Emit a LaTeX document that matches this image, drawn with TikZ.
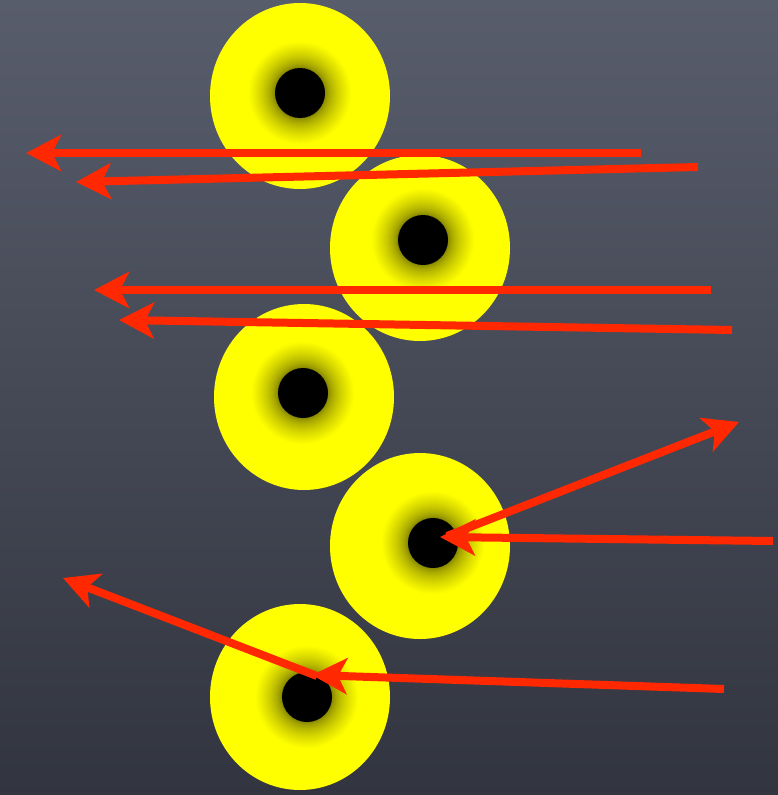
\documentclass[tikz,border=0pt]{standalone}
\usetikzlibrary{arrows.meta}
\definecolor{bgtop}{RGB}{88,93,108}
\definecolor{bgbot}{RGB}{50,53,63}
\definecolor{arrred}{RGB}{255,40,0}
\definecolor{disc}{RGB}{255,255,0}
\definecolor{dkolive}{RGB}{120,120,0}
\tikzset{
  discbody/.style={fill=disc},
  holedot/.style={fill=black},
  ray/.style={draw=arrred, line width=8pt, -{Stealth[length=35pt,width=36pt,inset=9pt]}}
}
\begin{document}
\begin{tikzpicture}[x=1pt,y=-1pt]
\shade[top color=bgtop, bottom color=bgbot] (0,0) rectangle (778,795);
\useasboundingbox (0,0) rectangle (778,795);
% discs: center, dot
\foreach \cx/\cy/\dx/\dy/\n in {300/96/300/93/a, 420/248/423/240/b, 304/397/303/393/c, 420/546/433/543/d, 300/697/307/697/e}{
  \fill[discbody] (\cx,\cy) ellipse [x radius=90, y radius=93];
  \foreach \r in {52,51,...,25}{
    \pgfmathsetmacro{\p}{100*((\r-25)/27)^0.6}
    \fill[color=disc!\p!dkolive] (\dx,\dy) circle [radius=\r];
  }
  \fill[holedot] (\dx,\dy) circle [radius=25];
  \coordinate (dot\n) at (\dx,\dy);
}
% arrow endpoints
\coordinate (s1) at (641,153); \coordinate (t1) at (26,153);
\coordinate (s2) at (698,167); \coordinate (t2) at (76,182);
\coordinate (s3) at (711,290); \coordinate (t3) at (94,290);
\coordinate (s4) at (732,330); \coordinate (t4) at (119,320);
\coordinate (s5) at (773,541); \coordinate (t5) at (440,537);
\coordinate (s6) at (447,536); \coordinate (t6) at (739,422);
\coordinate (s7) at (724,689); \coordinate (t7) at (312,675);
\coordinate (s8) at (317,676); \coordinate (t8) at (63,578);
\draw[ray] (s1) -- (t1);
\draw[ray] (s2) -- (t2);
\draw[ray] (s3) -- (t3);
\draw[ray] (s4) -- (t4);
\draw[ray] (s6) -- (t6);
\draw[ray] (s5) -- (t5);
\draw[ray] (s8) -- (t8);
\draw[ray] (s7) -- (t7);
\end{tikzpicture}
\end{document}
